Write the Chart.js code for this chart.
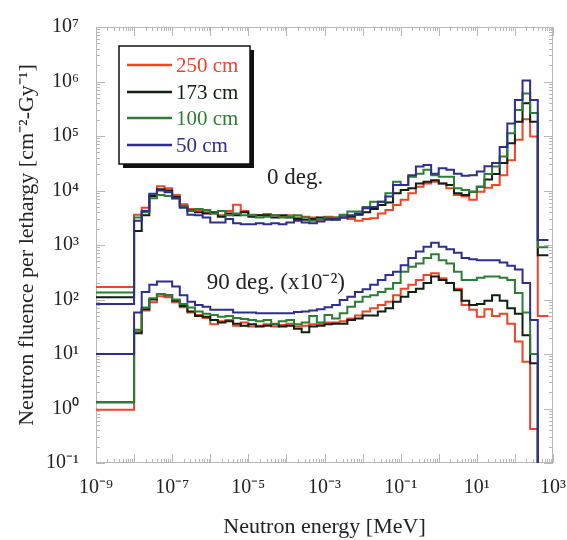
<!DOCTYPE html>
<html><head><meta charset="utf-8">
<script src="https://cdn.jsdelivr.net/npm/chart.js@4.4.1/dist/chart.umd.min.js"></script>
<style>html,body{margin:0;padding:0;background:#fff;}#wrap{width:567px;height:540px;}</style>
</head><body><div id="wrap"><canvas id="c" width="567" height="540"></canvas></div>
<script>
// Bin edges (log10 of neutron energy in MeV)
const binEdgeExp = [-9, -8, -7.8, -7.6, -7.4, -7.2, -7, -6.8, -6.6, -6.4, -6.2, -6, -5.8, -5.6, -5.4, -5.2, -5, -4.8, -4.6, -4.4, -4.2, -4, -3.8, -3.6, -3.4, -3.2, -3, -2.8, -2.6, -2.4, -2.2, -2, -1.8, -1.6, -1.4, -1.2, -1, -0.8, -0.6, -0.4, -0.2, 0, 0.2, 0.4, 0.6, 0.8, 1, 1.2, 1.4, 1.6, 1.8, 2, 2.2, 2.4, 2.6, 2.88];

const seriesLabels = ['250 cm', '173 cm', '100 cm', '50 cm'];

// 0 deg.
const deg0_250 = [170, 3600, 4800, 8100, 12000, 11000, 8300, 5600, 4600, 4400, 4000, 3800, 3500, 4200, 5500, 4200, 3600, 3500, 3700, 3500, 3300, 3500, 3200, 3300, 3200, 2900, 3300, 3200, 3500, 3000, 2800, 3000, 3100, 3800, 4400, 5400, 6800, 8900, 11700, 13500, 14500, 13500, 11000, 8300, 7800, 6800, 9500, 11200, 12600, 19000, 36000, 85000, 204000, 98000, 50];
const deg0_173 = [110, 1800, 3500, 7900, 10500, 10000, 7600, 5200, 4300, 4000, 3800, 4000, 3300, 3800, 3500, 4000, 3300, 3500, 3500, 3200, 3500, 3200, 3000, 2900, 3000, 3200, 3000, 2900, 3200, 3300, 3600, 4000, 4600, 5400, 6000, 8900, 10200, 11000, 13500, 14500, 15500, 13500, 12600, 8900, 8300, 9500, 11700, 16000, 20000, 32000, 74000, 182000, 400000, 182000, 650];
const deg0_100 = [135, 3200, 4000, 7200, 8300, 7900, 7100, 5200, 4200, 4600, 4400, 3800, 4200, 3500, 3800, 3500, 3500, 3200, 3300, 3500, 3200, 3300, 3500, 3200, 2800, 3000, 3200, 3200, 3600, 4100, 4100, 5000, 6200, 6200, 8900, 14500, 12600, 17800, 20400, 24000, 19000, 17800, 17800, 11000, 10200, 9500, 11700, 20000, 27500, 42000, 112000, 300000, 600000, 263000, 910];
const deg0_50 = [83, 2800, 4200, 8700, 10000, 9300, 7200, 4800, 3600, 3500, 3200, 2600, 2600, 3000, 2500, 2400, 2400, 2500, 2400, 2500, 2400, 2600, 2800, 2600, 2500, 2700, 2900, 3000, 3200, 3500, 3800, 4700, 5000, 6200, 7800, 12600, 12600, 19000, 27500, 29500, 20400, 25700, 24000, 20400, 18600, 19000, 22400, 28000, 32000, 63000, 170000, 457000, 1040000, 457000, 1230];

// 90 deg. (x10^-2)
const deg90_250 = [0.95, 26, 63, 89, 115, 110, 89, 72, 58, 52, 46, 35, 40, 42, 33, 38, 32, 33, 35, 32, 34, 36, 32, 33, 35, 35, 38, 38, 40, 45, 51, 60, 69, 79, 91, 120, 158, 186, 229, 282, 302, 245, 200, 158, 79, 65, 48, 66, 50, 55, 36, 17, 7.2, 0.42];
const deg90_173 = [1.3, 24, 66, 100, 126, 120, 95, 76, 60, 50, 48, 42, 38, 40, 36, 33, 35, 32, 33, 35, 32, 33, 29, 25, 32, 33, 35, 36, 36, 42, 45, 51, 51, 60, 69, 91, 112, 138, 158, 200, 263, 229, 200, 148, 95, 79, 83, 95, 120, 95, 69, 55, 22, 6.8];
const deg90_100 = [1.3, 28, 71, 105, 126, 120, 100, 83, 71, 60, 55, 52, 48, 50, 46, 44, 42, 40, 42, 36, 40, 42, 35, 38, 50, 38, 52, 45, 56, 74, 91, 112, 120, 138, 158, 200, 324, 398, 457, 575, 676, 525, 457, 324, 229, 229, 251, 263, 263, 251, 229, 132, 58, 10];
const deg90_50 = [10, 58, 138, 186, 214, 214, 174, 120, 91, 79, 74, 65, 65, 65, 58, 58, 58, 56, 56, 56, 56, 56, 59, 60, 63, 66, 72, 79, 98, 112, 138, 155, 186, 229, 282, 324, 427, 575, 759, 933, 1100, 933, 832, 724, 575, 550, 525, 525, 525, 479, 417, 355, 200, 42];

const xTickExp = [-9, -7, -5, -3, -1, 1, 3];
const xTickLabels = ['10⁻⁹', '10⁻⁷', '10⁻⁵', '10⁻³', '10⁻¹', '10¹', '10³'];
const yTickExp = [-1, 0, 1, 2, 3, 4, 5, 6, 7];
const yTickLabels = ['10⁻¹', '10⁰', '10¹', '10²', '10³', '10⁴', '10⁵', '10⁶', '10⁷'];

const COLORS = ['#ee4428', '#0f1f12', '#2e7d34', '#2e2e8e'];
const FONT = "'Liberation Serif', 'Times New Roman', serif";

function stepPoints(values, dropOut) {
  const pts = values.map((v, i) => ({x: Math.pow(10, binEdgeExp[i]), y: v}));
  const n = values.length;
  pts.push({x: Math.pow(10, binEdgeExp[n]), y: dropOut ? 1e-4 : values[n - 1]});
  return pts;
}
function ds(label, values, color, dropOut, order) {
  return {label, data: stepPoints(values, dropOut), borderColor: color, backgroundColor: color,
    borderWidth: 2, pointRadius: 0, stepped: 'before', fill: false, order};
}

const datasets = [
  ds(seriesLabels[3], deg0_50, COLORS[3], false, 0),
  ds(seriesLabels[3], deg90_50, COLORS[3], true, 0),
  ds(seriesLabels[2], deg0_100, COLORS[2], false, 1),
  ds(seriesLabels[2], deg90_100, COLORS[2], true, 1),
  ds(seriesLabels[1], deg0_173, COLORS[1], false, 2),
  ds(seriesLabels[1], deg90_173, COLORS[1], true, 2),
  ds(seriesLabels[0], deg0_250, COLORS[0], false, 3),
  ds(seriesLabels[0], deg90_250, COLORS[0], true, 3),
];

const frameTicks = {
  id: 'frameTicks',
  beforeDatasetsDraw(chart) {
    const {ctx, chartArea: a, scales: {x, y}} = chart;
    ctx.save();
    ctx.strokeStyle = '#b8b8b8';
    ctx.lineWidth = 1;
    ctx.beginPath();
    for (let e = -9; e <= 3; e++) {
      for (let m = 1; m < 10; m++) {
        if (e === 3 && m > 1) break;
        const px = Math.round(x.getPixelForValue(m * Math.pow(10, e))) + 0.5;
        const len = m === 1 ? 9 : 4;
        ctx.moveTo(px, a.bottom); ctx.lineTo(px, a.bottom - len);
        ctx.moveTo(px, a.top); ctx.lineTo(px, a.top + len);
      }
    }
    for (let e = -1; e <= 7; e++) {
      for (let m = 1; m < 10; m++) {
        if (e === 7 && m > 1) break;
        const py = Math.round(y.getPixelForValue(m * Math.pow(10, e))) + 0.5;
        const len = m === 1 ? 9 : 4;
        ctx.moveTo(a.left, py); ctx.lineTo(a.left + len, py);
        ctx.moveTo(a.right, py); ctx.lineTo(a.right - len, py);
      }
    }
    ctx.stroke();
    ctx.strokeRect(Math.round(a.left) + 0.5, Math.round(a.top) + 0.5, Math.round(a.right - a.left) - 1, Math.round(a.bottom - a.top) - 1);
    ctx.restore();
  },
  afterDatasetsDraw(chart) {
    const {ctx, scales: {x, y}} = chart;
    ctx.save();
    // annotations
    ctx.font = '23px ' + FONT;
    ctx.fillStyle = '#222';
    ctx.textAlign = 'center';
    ctx.textBaseline = 'middle';
    ctx.fillText('0 deg.', x.getPixelForValue(1.7e-4), y.getPixelForValue(1.7e4));
    ctx.fillText('90 deg. (x10⁻²)', x.getPixelForValue(5.3e-5), y.getPixelForValue(200));
    // legend box
    const bx = 119, by = 46, bw = 131, bh = 118;
    ctx.fillStyle = '#111';
    ctx.fillRect(bx + 4, by + 4, bw, bh);
    ctx.fillStyle = '#fff';
    ctx.fillRect(bx, by, bw, bh);
    ctx.strokeStyle = '#111';
    ctx.lineWidth = 1.5;
    ctx.strokeRect(bx, by, bw, bh);
    const rows = [65, 92, 118, 145];
    ctx.font = '21px ' + FONT;
    ctx.textAlign = 'left';
    for (let i = 0; i < 4; i++) {
      ctx.strokeStyle = COLORS[i];
      ctx.lineWidth = 2.5;
      ctx.beginPath();
      ctx.moveTo(127, rows[i]); ctx.lineTo(172, rows[i]);
      ctx.stroke();
      ctx.fillStyle = COLORS[i];
      ctx.fillText(seriesLabels[i], 176, rows[i] + 1);
    }
    ctx.restore();
  }
};

new Chart(document.getElementById('c'), {
  type: 'line',
  data: {datasets},
  options: {
    responsive: false,
    animation: false,
    devicePixelRatio: 1,
    layout: {padding: {left: 0, top: 27, right: 14, bottom: 0}},
    plugins: {legend: {display: false}, tooltip: {enabled: false}},
    scales: {
      x: {
        type: 'logarithmic', position: 'bottom', min: 1e-9, max: 1e3,
        grid: {display: false, drawTicks: false},
        border: {display: false},
        afterBuildTicks: s => { s.ticks = xTickExp.map(e => ({value: Math.pow(10, e)})); },
        afterFit: s => { s.height = 77; s.paddingLeft = 0; s.paddingRight = 0; },
        ticks: {autoSkip: false, maxRotation: 0, padding: 13, color: '#222',
          font: {family: FONT, size: 20}, callback: (v, i) => xTickLabels[i]},
        title: {display: true, text: 'Neutron energy [MeV]', color: '#222',
          font: {family: FONT, size: 22}, padding: {top: 0, bottom: 0}}
      },
      y: {
        type: 'logarithmic', position: 'left', min: 0.1, max: 1e7,
        grid: {display: false, drawTicks: false},
        border: {display: false},
        afterBuildTicks: s => { s.ticks = yTickExp.map(e => ({value: Math.pow(10, e)})); },
        afterFit: s => { s.width = 96; s.paddingTop = 0; s.paddingBottom = 0; },
        ticks: {autoSkip: false, padding: 17, color: '#222',
          font: {family: FONT, size: 20}, callback: (v, i) => yTickLabels[i]},
        title: {display: true, text: 'Neutron fluence per lethargy [cm⁻²-Gy⁻¹]', color: '#222',
          font: {family: FONT, size: 22}, padding: {top: 14, bottom: 0}}
      }
    }
  },
  plugins: [frameTicks]
});
</script></body></html>
